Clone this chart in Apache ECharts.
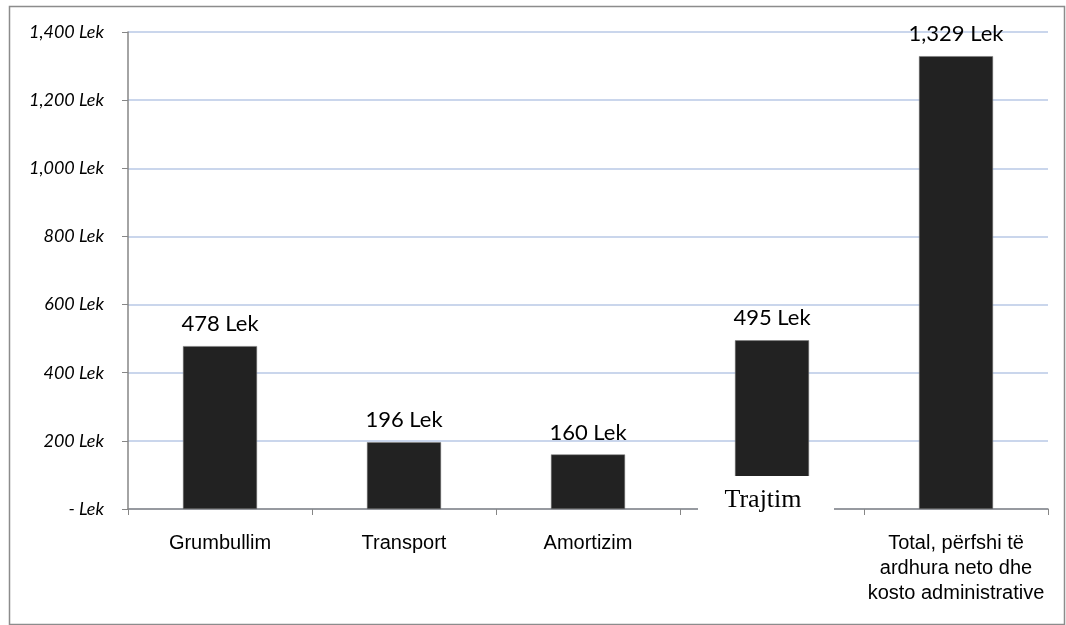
<!DOCTYPE html>
<html>
<head>
<meta charset="utf-8">
<script src="https://cdn.jsdelivr.net/npm/echarts@6/dist/echarts.min.js"></script>
<style>
  html, body { margin: 0; padding: 0; background: #FFFFFF; }
  #chart { width: 1066px; height: 625px; }
</style>
</head>
<body>
<div id="chart"></div>
<script>
// kategorite dhe vlerat (Lek)
var categories = ['Grumbullim', 'Transport', 'Amortizim', 'Trajtim', 'Total, përfshi të\nardhura neto dhe\nkosto administrative'];
var values = [478, 196, 160, 495, 1329];
var yTicks = [0, 200, 400, 600, 800, 1000, 1200, 1400];

function lek(v) {
  if (v === 0) return '- Lek';
  return v.toLocaleString('en-US') + ' Lek';
}

var chart = echarts.init(document.getElementById('chart'));
var option = {
  animation: false,
  backgroundColor: '#FFFFFF',
  graphic: [
    {
      type: 'rect',
      left: 7, top: 4,
      shape: { width: 1055, height: 618 },
      style: { fill: 'none', stroke: '#8c8c8c', lineWidth: 1.5 },
      silent: true
    }
  ],
  grid: {
    left: 128,
    right: 18,
    top: 32,
    bottom: 116
  },
  xAxis: {
    type: 'category',
    data: categories,
    axisLine: { lineStyle: { color: '#868686', width: 1.5 } },
    axisTick: { show: true, length: 6, lineStyle: { color: '#868686' } },
    axisLabel: {
      margin: 22,
      color: '#000',
      fontSize: 20,
      lineHeight: 25,
      fontFamily: '"Liberation Sans", Arial, sans-serif',
      interval: 0,
      formatter: function (v) { return v === 'Trajtim' ? '' : v; }
    }
  },
  yAxis: {
    type: 'value',
    min: yTicks[0],
    max: yTicks[yTicks.length - 1],
    interval: 200,
    axisLine: { show: true, lineStyle: { color: '#868686', width: 1.5 } },
    axisTick: { show: true, length: 6, lineStyle: { color: '#868686' } },
    splitLine: { lineStyle: { color: '#b9c8e6', width: 1.5 } },
    axisLabel: {
      margin: 24,
      color: '#000',
      fontSize: 18,
      fontStyle: 'italic',
      fontFamily: 'Lato, "Open Sans", sans-serif',
      formatter: function (v) { return lek(v); }
    }
  },
  series: [
    {
      type: 'bar',
      data: values,
      barWidth: 74,
      itemStyle: { color: '#222222', borderColor: '#777', borderWidth: 0.5 },
      label: {
        show: true,
        position: 'top',
        distance: 11,
        color: '#000',
        fontSize: 22,
        fontFamily: 'Lato, "Open Sans", sans-serif',
        formatter: function (p) { return lek(p.value); }
      },
      markPoint: {
        silent: true,
        data: [
          {
            coord: [3, 0],
            symbol: 'rect',
            symbolSize: [136, 46],
            symbolOffset: [-6, -10],
            itemStyle: { color: '#FFFFFF' },
            label: {
              show: true,
              position: 'inside',
              formatter: 'Trajtim',
              color: '#000',
              fontSize: 26,
              fontFamily: '"Liberation Serif", "DejaVu Serif", serif',
              offset: [-3, 1]
            }
          }
        ]
      }
    }
  ]
};
chart.setOption(option);
</script>
</body>
</html>
